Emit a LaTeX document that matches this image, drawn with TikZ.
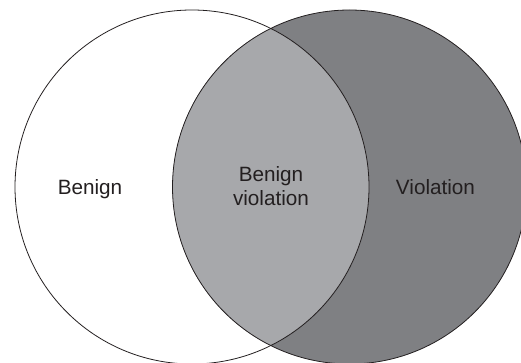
\documentclass[tikz,border=0pt]{standalone}
\usepackage{fontspec}
\setmainfont{Liberation Sans}
\definecolor{txt}{HTML}{231F20}
\definecolor{midgray}{HTML}{A7A8AB}
\definecolor{darkgray}{HTML}{7F8083}
\begin{document}
\begin{tikzpicture}[x=1pt,y=-1pt,
  setcircle/.style={circle,draw=txt,line width=0.8pt,minimum size=354pt,inner sep=0pt},
  label/.style={text=txt,font=\fontsize{20.7}{24.5}\selectfont,inner sep=0pt,align=center}]
\useasboundingbox (0,0) rectangle (521,363);
\clip (0,0) rectangle (521,363);
\fill[darkgray] (349.5,187) circle[radius=177pt];
\begin{scope}
  \clip (192,187) circle[radius=177pt];
  \fill[midgray] (349.5,187) circle[radius=177pt];
\end{scope}
\node[setcircle] (L) at (192,187) {};
\node[setcircle] (R) at (349.5,187) {};
\node[label,anchor=base] (benign) at (90,195) {Benign};
\node[label,anchor=base] (violation) at (435.5,195) {Violation};
\node[label] (both) at (271,186) {Benign\\violation};
\end{tikzpicture}
\end{document}
